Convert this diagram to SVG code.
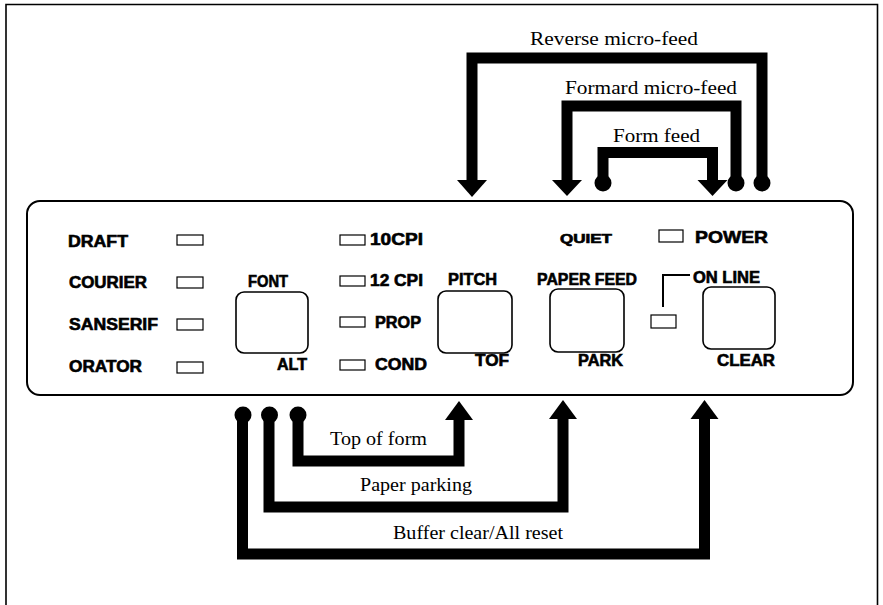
<svg xmlns="http://www.w3.org/2000/svg" width="883" height="605" viewBox="0 0 883 605">
<style>
.frame{fill:none;stroke:#000;stroke-width:1.6}
.panel{fill:#fff;stroke:#000;stroke-width:2}
.led{fill:#fff;stroke:#000;stroke-width:1.2}
.btn{fill:#fff;stroke:#000;stroke-width:1.6}
.lbl{font-family:"Liberation Sans",Arial,sans-serif;font-weight:bold;font-size:16px;fill:#000;stroke:#000;stroke-width:0.6}
.cap{font-family:"Liberation Serif","Times New Roman",serif;font-size:19px;fill:#000}
.bar{fill:none;stroke:#000;stroke-width:11;stroke-linejoin:miter}
.hd{fill:#000}
</style>
<path class="frame" d="M6 606 V4.5 H877.5 V606"/>
<g id="panel">
<rect class="panel" x="27" y="201" width="826" height="194" rx="13"/>
</g>
<g id="font-group">
<text class="lbl" x="68" y="247" textLength="60" lengthAdjust="spacingAndGlyphs">DRAFT</text>
<text class="lbl" x="69" y="288" textLength="78" lengthAdjust="spacingAndGlyphs">COURIER</text>
<text class="lbl" x="69" y="330" textLength="89" lengthAdjust="spacingAndGlyphs">SANSERIF</text>
<text class="lbl" x="69" y="372" textLength="73" lengthAdjust="spacingAndGlyphs">ORATOR</text>
<rect class="led" x="177" y="235" width="26" height="10"/>
<rect class="led" x="177" y="277" width="26" height="11"/>
<rect class="led" x="177" y="319" width="26" height="11"/>
<rect class="led" x="177" y="362" width="26" height="11"/>
</g>
<g id="font-button">
<text class="lbl" x="248" y="287" textLength="40" lengthAdjust="spacingAndGlyphs">FONT</text>
<rect class="btn" x="236" y="292" width="72" height="61" rx="8"/>
<text class="lbl" x="277" y="370" textLength="30" lengthAdjust="spacingAndGlyphs">ALT</text>
</g>
<g id="pitch-group">
<rect class="led" x="340" y="235" width="25" height="10"/>
<rect class="led" x="340" y="276" width="25" height="10"/>
<rect class="led" x="340" y="317" width="25" height="10"/>
<rect class="led" x="340" y="360" width="25" height="10"/>
<text class="lbl" x="370" y="245" textLength="53" lengthAdjust="spacingAndGlyphs">10CPI</text>
<text class="lbl" x="370" y="286" textLength="53" lengthAdjust="spacingAndGlyphs">12 CPI</text>
<text class="lbl" x="375" y="328" textLength="46" lengthAdjust="spacingAndGlyphs">PROP</text>
<text class="lbl" x="375" y="370" textLength="52" lengthAdjust="spacingAndGlyphs">COND</text>
</g>
<g id="pitch-button">
<text class="lbl" x="448" y="285" textLength="49" lengthAdjust="spacingAndGlyphs">PITCH</text>
<rect class="btn" x="438" y="291" width="74" height="62" rx="8"/>
<text class="lbl" x="475" y="366" textLength="34" lengthAdjust="spacingAndGlyphs">TOF</text>
</g>
<g id="paperfeed-button">
<text class="lbl" x="537" y="285" textLength="100" lengthAdjust="spacingAndGlyphs">PAPER FEED</text>
<rect class="btn" x="550" y="289" width="74" height="63" rx="8"/>
<text class="lbl" x="578" y="366" textLength="45" lengthAdjust="spacingAndGlyphs">PARK</text>
</g>
<g id="quiet">
<text class="lbl" x="560" y="243" style="font-size:12px" textLength="52" lengthAdjust="spacingAndGlyphs">QUIET</text>
</g>
<g id="power">
<rect class="led" x="659" y="230" width="24" height="12"/>
<text class="lbl" x="695" y="243" style="font-size:17px" textLength="73" lengthAdjust="spacingAndGlyphs">POWER</text>
</g>
<g id="online-button">
<path d="M663 307 V275 H690" fill="none" stroke="#000" stroke-width="2"/>
<rect class="led" x="651" y="315" width="25" height="13"/>
<text class="lbl" x="693" y="283" textLength="67" lengthAdjust="spacingAndGlyphs">ON LINE</text>
<rect class="btn" x="703" y="287" width="72" height="62" rx="8"/>
<text class="lbl" x="717" y="366" textLength="58" lengthAdjust="spacingAndGlyphs">CLEAR</text>
</g>
<g id="connectors">
<path class="bar" d="M472 181 V58 H762 V183"/>
<polygon class="hd" points="457,180 487,180 472,197"/>
<circle class="hd" cx="762" cy="183" r="8.5"/>
<path class="bar" d="M567 181 V106 H736 V183"/>
<polygon class="hd" points="552,180 582,180 567,196"/>
<circle class="hd" cx="736" cy="183" r="8.5"/>
<path class="bar" d="M603 183 V152.5 H712.5 V181"/>
<polygon class="hd" points="697.5,180 727.5,180 712.5,196"/>
<circle class="hd" cx="603" cy="183" r="8.5"/>
<path class="bar" d="M298 415 V461 H459 V419"/>
<polygon class="hd" points="445,420 473,420 459,401"/>
<circle class="hd" cx="298" cy="415" r="8.5"/>
<path class="bar" d="M269 415 V507 H563 V418"/>
<polygon class="hd" points="549,419 577,419 563,400"/>
<circle class="hd" cx="269.5" cy="415" r="8.5"/>
<path class="bar" d="M242.5 415 V554 H704.5 V418"/>
<polygon class="hd" points="690.5,419 718.5,419 704.5,400"/>
<circle class="hd" cx="243" cy="415" r="8.5"/>
</g>
<g id="labels">
<text class="cap" x="530" y="45" textLength="168" lengthAdjust="spacingAndGlyphs">Reverse micro-feed</text>
<text class="cap" x="565" y="94" textLength="172" lengthAdjust="spacingAndGlyphs">Formard micro-feed</text>
<text class="cap" x="613" y="142" textLength="87" lengthAdjust="spacingAndGlyphs">Form feed</text>
<text class="cap" x="330" y="445" textLength="97" lengthAdjust="spacingAndGlyphs">Top of form</text>
<text class="cap" x="360" y="491" textLength="112" lengthAdjust="spacingAndGlyphs">Paper parking</text>
<text class="cap" x="393" y="539" textLength="170" lengthAdjust="spacingAndGlyphs">Buffer clear/All reset</text>
</g>
</svg>
